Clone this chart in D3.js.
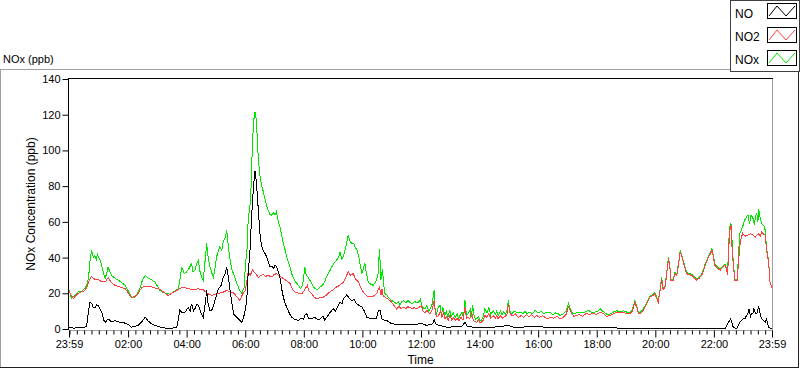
<!DOCTYPE html>
<html>
<head>
<meta charset="utf-8">
<script src="https://cdn.jsdelivr.net/npm/d3@7"></script>
<style>
  html, body { margin: 0; padding: 0; background: #fff; }
  svg { display: block; }
  text { font-family: "Liberation Sans", Arial, sans-serif; fill: #000; }
</style>
</head>
<body>
<svg id="chart" width="800" height="369"></svg>
<script>
// ---------- DATA (minutes since 23:59, ppb) ----------
const seriesNames = ["NO", "NO2", "NOx"];
const seriesColors = ["#000000", "#ff4040", "#00e600"];

const noData = [
  [0,1],[10,0.5],[22,0.8],[36,1.2],[40,10.4],[43,15],[46,14.5],[50,12],[53,11.9],[57,13.5],[60,13],[64,11],[67,9.5],[71,5],[74,3.8],[77,4.5],[80,5.7],[87,4],[94,4.7],
  [104,3.8],[115,3.3],[122,2.5],[128,1],[135,1.5],[142,2],[149,4],[156,6.6],[162,4.5],[169,3],[176,2],[183,1.4],[195,0.6],[207,0.3],[221,1],[227,10.4],[232,9],[238,9.5],[244,12],
  [248,10],[251,14.2],[255,10],[258,11.4],[262,14],[265,13.3],[270,9],[275,6.6],[279,14],[282,21.6],[285,14],[289,10],[293,11],[296,13],[301,18],[306,22.6],[311,24],[316,29],[320,31],[323,34.7],
  [327,28],[330,21.6],[334,14],[337,8.5],[342,7],[347,5.7],[351,4.5],[354,3.8],[358,7],[361,10.4],[364,16],[367,31],[371,45],[374,62.9],[378,80],[381,88.7],[384,81.6],
  [388,66],[391,53.5],[394,47],[398,44],[402,42],[405,40.4],[409,37],[412,34.7],[416,35],[419,33.8],[422,36],[425,34.7],[429,32],[432,29],[436,22],[439,17.9],[443,14],[446,12.3],[451,9],[456,6.6],
  [462,5.5],[470,4.8],[475,6],[480,5.5],[484,8],[487,8.5],[491,6],[497,5.7],[503,6.5],[511,5.2],[516,6],[520,7.2],[524,5],[528,6.6],[534,9],[541,11.3],[546,10],[551,13],[555,15],[559,14],[562,17],[566,18],[569,19.4],
  [574,17],[579,16],[584,16.5],[589,14.2],[595,13],[600,12.3],[605,10],[610,6.6],[616,6],[623,5.7],[630,6],[634,10.4],[637,10.4],[641,5.7],[646,5],[651,4.8],[657,3.5],
  [664,2.9],[671,2.6],[678,2.5],[690,2.8],[705,2.5],[715,2.8],[722,3.3],[727,2.5],[733,2],[740,2.5],[745,3],[748,5.3],[752,2.5],[760,2],[767,1.5],[774,1],[790,1.2],[805,1.5],[811,3.8],[816,1.5],[828,1],[842,0.8],
  [870,1],[885,1.5],[900,2],[910,1],[950,1.2],[1000,1],[1040,0.8],[1067,0.6],[1088,1],[1100,0.6],[1150,0.5],[1200,0.4],[1250,0.5],[1300,0.4],
  [1345,0.5],[1351,3.8],[1355,5.7],[1361,0.7],[1368,0.3],[1374,3.8],[1378,5],[1381,5.7],[1385,6],[1388,7.6],[1391,9],[1393,11.3],
  [1396,7],[1398,8.5],[1401,9],[1403,11.3],[1406,9],[1409,8.5],[1411,11],[1413,12.3],[1416,8],[1419,5.7],[1423,4.5],[1426,3.8],[1429,5.7],[1433,0.7],[1440,0.3]
];

const no2Data = [
  [0,21],[9,17],[15,19],[22,20.5],[30,21],[36,23],[40,26.3],[46,29.5],[52,28],[60,27.6],[67,26.5],[74,26.3],[80,28.8],[87,26],[94,24.5],[104,23.5],[115,22.6],[122,20],[128,17.5],
  [139,18.8],[149,23.2],[157,24],[166,23.9],[176,23],[186,22.3],[195,20.5],[203,18.8],[210,20],[217,21],[226,22.5],[234,23.5],[245,22.5],[255,22],[265,22.5],[275,22],[283,20],[292,18.8],
  [299,19.5],[306,20],[315,20.5],[323,21.6],[330,20.8],[337,20.3],[344,18],[350,16],[356,19.8],[361,21.6],[364,26],[367,32],[371,30],[376,33],[382,31],[388,29],[393,30],[398,30.5],
  [403,29.5],[408,30],[416,29],[420,30.5],[425,31],[432,29.5],[439,28.2],[446,27],[453,25.4],[458,22],[463,20.7],[470,20],[477,19.8],[483,22],[488,24.5],[492,21],[497,19.8],[502,18],[507,17],
  [514,17.5],[521,17.9],[527,19],[534,20.7],[541,22],[548,23.5],[555,24.5],[562,26.3],[567,29],[572,32],[577,30],[582,31],[587,28],[593,26.3],[598,23],[603,20.7],[610,18.5],[617,17.9],[624,18.5],[630,19.8],
  [636,23.5],[639,19],[641,22.6],[644,18],[647,17.9],[652,17],[657,16],[661,15],[666,13],[671,11.3],[676,12.5],[680,11.5],[685,12.3],[690,11.5],[694,12.5],[698,12],[703,11.5],[708,12],[712,11.3],[717,12],[722,13.2],
  [725,10],[729,8.9],[733,10.5],[737,9],[740,8.5],[744,11],[748,16],[751,8],[754,7],[757,7.6],[761,10],[764,6.5],[767,9],[770,5.7],[773,7],[777,5],[780,7.6],[784,5],[788,6.5],[791,4.8],[795,6],[799,4.5],[803,6.5],[807,5],
  [811,12.3],[814,6],[818,6.5],[821,5.7],[825,9],[828,5],[832,4],[835,3.8],[839,5],[842,3.5],[845,3.8],[849,5],[852,7.6],[856,6.5],[860,8.5],[864,6],
  [869,7.6],[873,6],[876,7.5],[879,5.7],[884,7.5],[888,6],[893,7],[897,8],[900,14.2],[904,8],[910,7.6],[915,8.5],[920,6.5],[926,7.5],[931,6.6],[937,8],[942,7],[948,8],[953,6.5],[958,7.6],[964,6.5],
  [970,7.5],[979,5.7],[986,6.5],[993,6],[1000,7],[1006,5.7],[1012,6.5],[1018,8],[1023,12.3],[1028,9.5],[1034,7],[1040,7.6],[1046,8],[1052,7],[1060,8.9],[1066,8],[1073,9],[1080,8],[1088,9.5],
  [1095,8.5],[1101,7],[1108,7.6],[1115,8.5],[1122,9.5],[1128,9],[1135,9.5],[1142,8.5],[1149,8.5],[1154,10],[1159,15],[1163,12],[1166,9],[1170,8.5],[1175,10],[1180,12.3],[1185,15],[1190,17.9],[1195,18.5],[1200,19.8],
  [1204,17],[1207,15],[1211,22],[1214,28.2],[1217,22],[1221,23.5],[1224,30],[1228,39.5],[1231,34],
  [1233,27.3],[1238,27.3],[1241,31],[1245,30],[1249,37],[1252,43.2],[1255,41],[1258,37.6],[1262,34],[1265,31],[1270,30.5],[1276,30],[1281,28.5],[1286,27.3],[1291,28.5],[1296,30],
  [1300,33],[1303,35.7],[1307,38],[1310,40.5],[1314,42],[1317,44.3],[1320,40],[1323,35.7],[1328,34],[1334,33],[1339,34.5],[1344,35.7],[1347,33],[1349,30],[1351,42],[1353,54.4],[1356,58],
  [1358,46],[1361,34.7],[1364,27.3],[1369,27.3],[1371,36],[1374,46],[1377,51],[1380,53.5],[1385,52],[1391,52.6],[1396,53.5],[1401,52.6],[1406,51.5],[1412,53.5],[1416,52],[1419,54.4],
  [1423,53],[1426,52.6],[1429,44],[1433,37.6],[1436,26.3],[1440,23.2]
];

const noxData = [
  [0,22],[5,17],[12,19],[18,20.7],[25,21],[33,22.8],[37,25],[40,28.4],[43,38],[46,44],[50,40],[53,41],[56,39],[58,42],[62,39.5],[65,37.5],[67,35.7],[71,31],[74,28.4],[77,31],[80,34.7],[84,32],
  [87,30],[94,28.5],[101,27.3],[108,26],[115,24.5],[122,21],[128,17.9],[135,17.9],[140,20],[145,22.6],[150,27],[156,30],[162,28.4],[169,27.5],[176,26.3],[181,24],[186,21.6],[193,20.5],
  [200,19.8],[207,19.5],[214,20.7],[219,21.5],[224,22.6],[228,29],[231,34.7],[236,31],[241,32],[246,34],[251,36.6],[254,32],[258,33],[262,37],[265,38.5],[269,31],[272,29],[275,27.3],[279,39],[282,47.9],
  [285,40],[289,34.7],[293,31],[296,29],[300,36],[303,41],[306,44],[309,46],[313,44],[316,48.8],[320,51],[323,55.4],[327,45],[330,38.5],[334,33],[337,31],[341,28],[344,25.4],[349,22],[354,19.8],
  [359,23.5],[361,34.7],[365,46],[367,61],[372,72],[376,106],[379,118],[381,121.3],[384,117],[386,104],[388,94.7],[391,86],[395,79.7],
  [398,77],[402,72],[405,69],[408,66.6],[412,64],[415,63.8],[419,65],[422,64],[425,65.7],[428,61],[432,57.2],[436,52],[439,47.9],[443,44],[446,40.4],[450,37],[453,34.7],[456,31],[459,29],[465,26],[470,24.5],
  [474,22.5],[477,23.5],[480,27],[483,34.7],[486,30],[490,29],[494,27],[497,25.5],[501,23.5],[504,22.6],[509,22],[514,23.5],[519,24.5],[524,26.3],[527,29],[531,31],[535,33],[538,34.7],[543,37],[548,38.5],
  [552,40],[555,43],[559,39],[562,40.5],[567,46],[572,52.6],[576,49],[579,47.9],[583,48],[586,46],[590,44],[593,41.3],[597,35],[600,31],[603,34],[606,36.7],[610,30],[613,26.3],[618,25],[623,24.5],
  [627,26],[630,27.5],[633,31],[636,45],[639,27.5],[642,33.8],[645,24],[647,20],[651,19],[655,17.5],[661,16],[666,15],[671,14.2],[675,15.5],[678,13.2],[681,15],[685,16],[690,14.5],[694,16],[698,15],[703,14],[708,15.5],
  [712,14.6],[716,15],[720,16.9],[722,13],[725,12],[729,11.3],[733,13],[737,10],[740,11.3],[744,14],[748,21.6],[750,10],[753,8.5],[756,12],[760,13.2],[763,8],[766,12],[770,7.6],[773,10],[776,6.5],[780,10.4],[783,7],[787,9],[791,6.6],
  [795,8.5],[798,5.5],[801,7.6],[805,9.5],[808,6],[811,16],[814,8],[818,8.5],[822,11],[824,6.5],[827,13.2],[830,7],[833,5.5],[835,5.7],[839,7],[842,4.5],[845,4.8],[849,7.5],[852,11.3],[856,9],[860,12],[864,8],
  [869,10.4],[873,8],[876,10],[879,7.6],[884,10],[887,8],[890,9.5],[894,8.5],[897,10],[900,16.2],[903,10],[907,8.5],[912,10],[918,9],[924,9.5],[930,8.5],[934,10],[938,8.5],[944,9.5],[949,8.5],[955,10.4],[961,9],
  [967,10],[972,8.5],[978,9.5],[985,9.5],[991,8],[997,9],[1002,8.5],[1006,7.6],[1012,8.5],[1018,10],[1023,14.2],[1028,10.5],[1033,8.5],[1040,9],
  [1047,9.5],[1054,9],[1060,10],[1064,10.4],[1070,9.5],[1078,9.5],[1083,10],[1088,11.3],[1093,10],[1098,9],[1103,8],[1108,8.3],[1115,9.5],[1122,10.2],[1128,9.7],[1136,10.2],[1142,9.5],[1149,9.2],[1154,10.8],
  [1159,15.7],[1163,12.7],[1166,9.7],[1170,9.2],[1175,10.7],[1180,13],[1185,15.7],[1190,18.6],[1195,19.2],[1200,20.5],[1204,17.7],[1207,15.7],[1211,22.7],[1214,28.9],[1217,22.7],[1221,24.2],[1224,30.7],[1228,40.2],[1231,34.7],
  [1233,28],[1238,28],[1241,31.7],[1245,30.7],[1249,37.7],[1252,43.9],[1255,41.7],[1258,38.3],[1262,34.7],[1265,31.7],[1270,31.2],[1276,30.7],[1281,29.2],[1286,28],[1291,29.2],[1296,30.7],
  [1300,33.7],[1303,36.4],[1307,38.7],[1310,41.2],[1314,42.7],[1317,45],[1320,40.7],[1323,36.4],[1328,34.7],[1334,33.7],[1339,35.2],[1344,36.4],[1347,33.7],[1349,30.7],[1351,46],[1353,57],[1356,59],
  [1358,50],[1361,36],[1364,28],[1369,28],[1371,40],[1374,53.5],[1378,56],[1381,58.2],[1384,61],[1388,62.9],[1391,63.8],[1394,59],[1397,64],[1401,62],[1404,58],[1406,63],[1409,64.8],
  [1411,60],[1413,67],[1416,62],[1419,59],[1423,58],[1426,55.4],[1429,45],[1433,38.5],[1436,26.3],[1440,23.2]
];

const yTickValues = [0, 20, 40, 60, 80, 100, 120, 140];
const xMajorLabels = ["23:59","02:00","04:00","06:00","08:00","10:00","12:00","14:00","16:00","18:00","20:00","22:00","23:59"];
const xMajorMinutes = [0,121,241,361,481,601,721,841,961,1081,1201,1321,1440];

// ---------- LAYOUT ----------
const svg = d3.select("#chart");
const L = 69, R = 772, T = 79, B = 329;
const x = d3.scaleLinear().domain([0, 1440]).range([L, R]);
const y = d3.scaleLinear().domain([0, 140]).range([B, T]);

// outer sunken panel
svg.append("line").attr("x1", 0).attr("x2", 730).attr("y1", 69.5).attr("y2", 69.5).attr("stroke", "#a0a0a0");
svg.append("line").attr("x1", 0.5).attr("x2", 0.5).attr("y1", 69.5).attr("y2", 368).attr("stroke", "#a0a0a0");
svg.append("line").attr("x1", 0).attr("x2", 799).attr("y1", 367.5).attr("y2", 367.5).attr("stroke", "#202020");
svg.append("line").attr("x1", 798.5).attr("x2", 798.5).attr("y1", 72).attr("y2", 368).attr("stroke", "#202020");

// title
svg.append("text").attr("x", 3).attr("y", 63).attr("font-size", 11).text("NOx (ppb)");

// plot area frame
svg.append("line").attr("x1", R + 0.5).attr("x2", R + 0.5).attr("y1", T).attr("y2", B + 2).attr("stroke", "#a0a0a0");
svg.append("line").attr("x1", L).attr("x2", R + 1).attr("y1", B + 1.5).attr("y2", B + 1.5).attr("stroke", "#a0a0a0");
svg.append("line").attr("x1", L - 0.5).attr("x2", R + 1).attr("y1", T - 0.5).attr("y2", T - 0.5).attr("stroke", "#000");
svg.append("line").attr("x1", L - 0.5).attr("x2", L - 0.5).attr("y1", T - 1).attr("y2", B + 1).attr("stroke", "#000");

// data lines
svg.append("clipPath").attr("id", "clip").append("rect")
  .attr("x", L).attr("y", T).attr("width", R - L).attr("height", B - T + 1);
const line = d3.line().x(d => x(d[0])).y(d => y(d[1]));
const plotG = svg.append("g").attr("clip-path", "url(#clip)");
[[noxData, seriesColors[2]], [no2Data, seriesColors[1]], [noData, seriesColors[0]]].forEach(([data, c]) => {
  plotG.append("path").datum(data).attr("d", line).attr("fill", "none")
    .attr("stroke", c).attr("stroke-width", 1).attr("shape-rendering", "crispEdges");
});

// y axis
const yAxis = svg.append("g").attr("transform", `translate(${L - 0.5},0)`)
  .call(d3.axisLeft(y).tickValues(yTickValues).tickSize(6).tickPadding(2));
yAxis.select(".domain").remove();
yAxis.selectAll("text").attr("font-size", 11).style("font-family", "'Liberation Sans', Arial, sans-serif");
yAxis.selectAll("line").attr("stroke", "#000");

// x axis: minor ticks every 15 min from 00:00
const minorMinutes = d3.range(0, 96).map(k => 1 + 15 * k).filter(m => !xMajorMinutes.includes(m));
const xMinor = svg.append("g").attr("transform", `translate(0,${B + 1.5})`)
  .call(d3.axisBottom(x).tickValues(minorMinutes).tickSize(4).tickFormat(""));
xMinor.select(".domain").remove();
xMinor.selectAll("line").attr("stroke", "#000");

const xMajor = svg.append("g").attr("transform", `translate(0,${B + 1.5})`)
  .call(d3.axisBottom(x).tickValues(xMajorMinutes).tickSize(7).tickPadding(3)
    .tickFormat((d, i) => xMajorLabels[i]));
xMajor.select(".domain").remove();
xMajor.selectAll("line").attr("stroke", "#000");
xMajor.selectAll("text").attr("font-size", 11).style("font-family", "'Liberation Sans', Arial, sans-serif");

// axis titles
svg.append("text").attr("x", (L + R) / 2).attr("y", 364).attr("text-anchor", "middle")
  .attr("font-size", 12).text("Time");
svg.append("text").attr("transform", `translate(35,${(T + B) / 2}) rotate(-90)`)
  .attr("text-anchor", "middle").attr("font-size", 12).text("NOx Concentration (ppb)");

// legend
const lg = svg.append("g");
lg.append("rect").attr("x", 730.5).attr("y", 0.5).attr("width", 69).attr("height", 71)
  .attr("fill", "#fff").attr("stroke", "#404040");
const swY = [3, 27, 50];
const txY = [18, 41, 64];
seriesNames.forEach((name, i) => {
  lg.append("text").attr("x", 735).attr("y", txY[i]).attr("font-size", 12).text(name);
  lg.append("rect").attr("x", 767.5).attr("y", swY[i] + 0.5).attr("width", 29).attr("height", 15)
    .attr("fill", "#fff").attr("stroke", "#000");
  const t = swY[i] + 3, b = swY[i] + 13;
  lg.append("polyline").attr("points", `769,${b} 777,${t} 786,${b} 795,${t}`)
    .attr("fill", "none").attr("stroke", seriesColors[i]).attr("stroke-width", 1);
});
</script>
</body>
</html>
